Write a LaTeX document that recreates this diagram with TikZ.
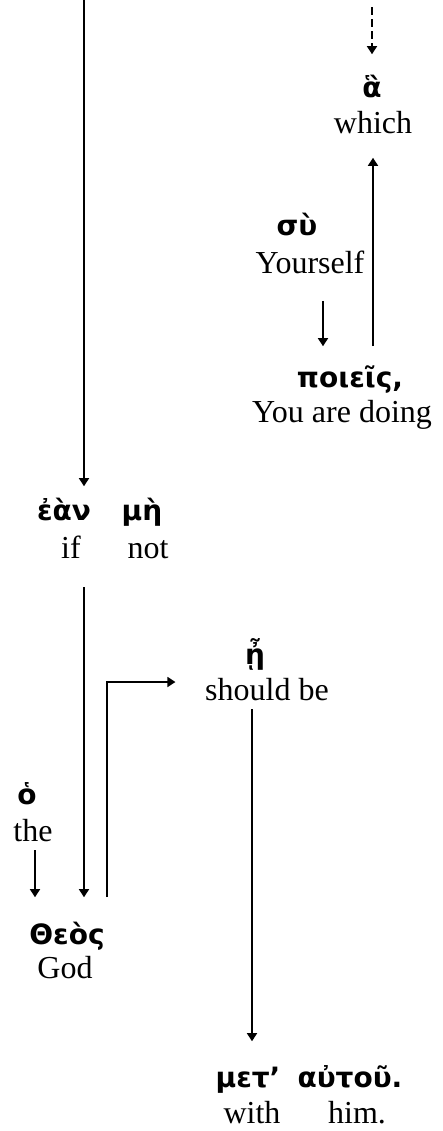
\documentclass[tikz,border=0pt]{standalone}
\usepackage{fontspec}
\setmainfont{Liberation Serif}
\newfontfamily\greekfont{DejaVu Sans}
\usetikzlibrary{arrows.meta}

\begin{document}
\begin{tikzpicture}[x=0.5pt,y=-0.5pt,>={Triangle[length=4pt,width=5pt]},
                    line width=0.8pt,
  gk/.style={font=\greekfont\bfseries\fontsize{14}{17}\selectfont,
             inner sep=0pt,text height=9pt,text depth=2pt},
  gl/.style={font=\fontsize{16}{19}\selectfont,
             inner sep=0pt,text height=11pt,text depth=3.5pt}]
  \useasboundingbox (0,0) rectangle (443,1131);
  \coordinate (topL) at (84,0);
  \coordinate (topR) at (372,7);

  % words with their glosses
  \node[gk] (ha)       at (372,90)   {ἃ};
  \node[gl] (which)    at (373,126)  {which};
  \node[gk] (su)       at (297,228)  {σὺ};
  \node[gl] (yourself) at (310,266)  {Yourself};
  \node[gk] (poieis)   at (350,380)  {ποιεῖς,};
  \node[gl] (doing)    at (342,415)  {You are doing};
  \node[gk] (ean)      at (64,513)   {ἐὰν};
  \node[gl] (if)       at (71,551)   {if};
  \node[gk] (me)       at (142,513)  {μὴ};
  \node[gl] (not)      at (148,551)  {not};
  \node[gk] (eta)      at (255,657)  {ᾖ};
  \node[gl] (shouldbe) at (267,693)  {should be};
  \node[gk] (ho)       at (27,797)   {ὁ};
  \node[gl] (the)      at (33,834)   {the};
  \node[gk] (theos)    at (67,937)   {Θεὸς};
  \node[gl] (god)      at (65,971)   {God};
  \node[gk] (met)      at (248,1080) {μετ’};
  \node[gl] (with)     at (252,1116) {with};
  \node[gk] (autou)    at (350,1080) {αὐτοῦ.};
  \node[gl] (him)      at (357,1116) {him.};

  \coordinate (yArr)  at ([xshift=6.5pt]yourself.south);
  \coordinate (bend)  at ([xshift=20pt]theos.north);
  \coordinate (sbArr) at ([xshift=-7.5pt]shouldbe.south);
  \coordinate (thArr) at ([xshift=1pt]the.south);

  \draw[->,dash pattern=on 4pt off 2pt,shorten >=12pt] (topR) -- (ha.north);
  \draw[->,shorten <=11pt,shorten >=8.25pt] (which.south |- poieis.north) -- (which.south);
  \draw[->,shorten <=9.75pt,shorten >=11pt] (yArr) -- (yArr |- poieis.north);
  \draw[->,shorten >=7.5pt] (topL) -- (topL |- ean.north);
  \draw[->,shorten <=10.5pt,shorten >=14pt] (topL |- if.south) -- (topL |- theos.north);
  \draw[->,shorten <=14pt,shorten >=14.5pt] (bend) |- ([yshift=5.5pt]shouldbe.west);
  \draw[->,shorten <=0.5pt,shorten >=13.5pt] (sbArr) -- (sbArr |- met.north);
  \draw[->,shorten <=0.5pt,shorten >=14pt] (thArr) -- (thArr |- theos.north);
\end{tikzpicture}
\end{document}
